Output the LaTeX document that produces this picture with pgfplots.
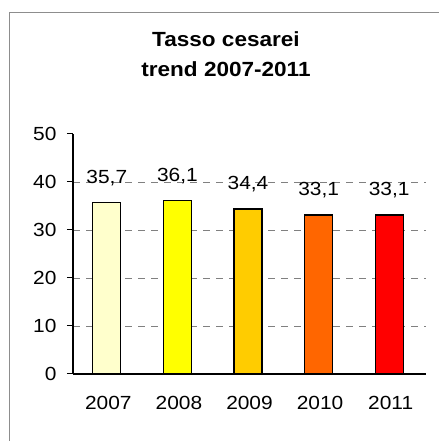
\documentclass[border=0pt]{standalone}
\usepackage{fontspec}
\setmainfont{Liberation Sans}[FakeStretch=1.1]
\usepackage{pgfplots}
\pgfplotsset{compat=1.18}
\definecolor{c1}{HTML}{FFFFCC}
\definecolor{c2}{HTML}{FFFF00}
\definecolor{c3}{HTML}{FFCC00}
\definecolor{c4}{HTML}{FF6600}
\definecolor{c5}{HTML}{FF0000}
\definecolor{gridgray}{HTML}{808080}
\begin{document}
\begin{tikzpicture}[x=1pt,y=1pt]
\useasboundingbox (0,0) rectangle (439,441);
\draw[color=gridgray!90, line width=1.6pt] (9.5,0) -- (9.5,428.5) -- (439,428.5);
\node[anchor=base, font=\fontsize{20.5}{24}\selectfont\bfseries] at (226,394) {Tasso cesarei};
\node[anchor=base, font=\fontsize{20.5}{24}\selectfont\bfseries] at (226,364) {trend 2007-2011};
\begin{axis}[
  at={(73pt,67pt)}, anchor=origin,
  scale only axis, width=353pt, height=240pt,
  ymin=0, ymax=50, xmin=0.5, xmax=5.5,
  axis lines*=left,
  axis line style={black, line width=1.2pt},
  ytick={0,10,20,30,40},
  ymajorgrids=true,
  extra y ticks={50},
  extra y tick style={ymajorgrids=false},
  xtick={1,2,3,4,5},
  xticklabels={2007,2008,2009,2010,2011},
  minor xtick={0.5,1.5,2.5,3.5,4.5,5.5},
  tick align=outside,
  major tick length=6pt,
  minor tick length=7pt,
  xtick style={draw=none},
  minor x tick style={black, line width=1pt},
  ytick style={black, line width=1pt},
  major grid style={gridgray, line width=0.9pt, dash pattern=on 7pt off 6pt},
  /pgf/number format/assume math mode=true,
  tick label style={font=\fontsize{19}{22}\selectfont},
  yticklabel style={xshift=-7pt},
  xticklabel style={yshift=-13pt},
  ybar, bar width=28pt, bar shift=-1.5pt,
  nodes near coords,
  nodes near coords style={font=\fontsize{19}{22}\selectfont, anchor=south, yshift=13pt,
    /pgf/number format/.cd, fixed, fixed zerofill, precision=1, use comma, assume math mode=true},
  every axis plot/.append style={draw=black, line width=1.3pt},
  clip=false,
]
\addplot[fill=c1] coordinates {(1,35.7)};
\addplot[fill=c2] coordinates {(2,36.1)};
\addplot[fill=c3] coordinates {(3,34.4)};
\addplot[fill=c4] coordinates {(4,33.1)};
\addplot[fill=c5] coordinates {(5,33.1)};
\end{axis}
\end{tikzpicture}
\end{document}
